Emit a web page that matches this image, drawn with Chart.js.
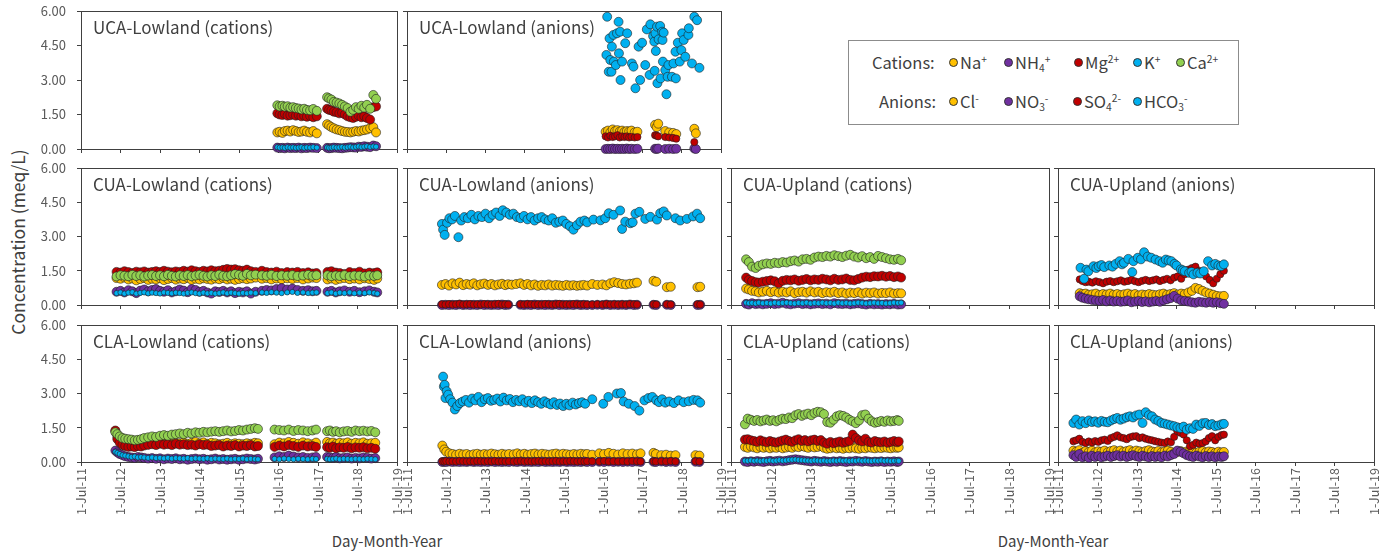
<!DOCTYPE html>
<html><head><meta charset="utf-8">
<script src="https://cdn.jsdelivr.net/npm/chart.js@4.4.1/dist/chart.umd.min.js"></script>
<style>
html,body{margin:0;padding:0;background:#fff;}
body{width:1379px;height:552px;overflow:hidden;position:relative;font-family:'Noto Sans CJK JP','Noto Sans',sans-serif;color:#404040;}
canvas{position:absolute;}
.pt{position:absolute;font-size:17px;line-height:20px;white-space:nowrap;color:#404040;}
.lg{position:absolute;font-size:16.5px;line-height:20px;white-space:nowrap;color:#404040;}
.lg sup{font-size:0.62em;vertical-align:0.55em;line-height:0;}
.lg sub{font-size:0.62em;vertical-align:-0.3em;line-height:0;}
.dot{position:absolute;width:9px;height:9px;border-radius:50%;border:0.8px solid #333;box-sizing:border-box;}
.ax{position:absolute;font-size:15px;line-height:20px;white-space:nowrap;color:#404040;}
</style></head><body>
<div id="legendBox" style="position:absolute;left:848px;top:40px;width:391px;height:85px;border:1px solid #8c8c8c;box-sizing:border-box;"></div>
<div class="ax" style="left:18px;top:242px;font-size:17.5px;transform:translate(-50%,-50%) rotate(-90deg);">Concentration (meq/L)</div>
<div class="ax" style="left:387px;top:541px;transform:translate(-50%,-50%);">Day-Month-Year</div>
<div class="ax" style="left:1053px;top:541px;transform:translate(-50%,-50%);">Day-Month-Year</div>
<script>
// ---------- tick values / labels ----------
const xTickVals = [2011.5,2012.5,2013.5,2014.5,2015.5,2016.5,2017.5,2018.5,2019.5];
const xTickLabels = ['1-Jul-11','1-Jul-12','1-Jul-13','1-Jul-14','1-Jul-15','1-Jul-16','1-Jul-17','1-Jul-18','1-Jul-19'];
const yTickVals = [0,1.5,3,4.5,6];
const yTickLabels = ['0.00','1.50','3.00','4.50','6.00'];

// ---------- UCA-Lowland cations ----------
const ucaLowCatDates = [2016.47,2016.53,2016.60,2016.66,2016.73,2016.80,2016.87,2016.94,2017.01,2017.08,2017.15,2017.22,2017.30,2017.38,2017.47,2017.73,2017.78,2017.84,2017.90,2017.97,2018.04,2018.11,2018.18,2018.25,2018.32,2018.39,2018.46,2018.53,2018.60,2018.67,2018.74,2018.82,2018.90,2018.97];
const ucaLowNa = [0.72,0.75,0.70,0.78,0.80,0.76,0.82,0.78,0.74,0.76,0.80,0.75,0.72,0.78,0.68,1.08,1.02,0.95,0.90,0.85,0.82,0.78,0.75,0.74,0.72,0.75,0.78,0.76,0.80,0.82,0.85,0.90,0.95,0.72];
const ucaLowNH4 = [0.06,0.04,0.05,0.03,0.06,0.04,0.05,0.04,0.06,0.03,0.05,0.04,0.06,0.05,0.04,0.05,0.03,0.04,0.06,0.05,0.04,0.03,0.05,0.06,0.08,0.07,0.06,0.10,0.09,0.12,0.10,0.08,0.15,0.12];
const ucaLowMg = [1.55,1.50,1.48,1.52,1.45,1.47,1.50,1.45,1.48,1.42,1.45,1.40,1.44,1.38,1.42,1.75,1.70,1.68,1.62,1.60,1.55,1.58,1.50,1.42,1.38,1.35,1.40,1.45,1.38,1.42,1.35,1.28,1.82,1.85];
const ucaLowK = [0.08,0.06,0.07,0.05,0.08,0.06,0.07,0.05,0.06,0.08,0.05,0.07,0.06,0.08,0.06,0.07,0.05,0.06,0.08,0.06,0.07,0.09,0.06,0.08,0.10,0.07,0.09,0.11,0.08,0.10,0.12,0.09,0.11,0.10];
const ucaLowCa = [1.90,1.85,1.88,1.84,1.86,1.80,1.82,1.78,1.76,1.72,1.75,1.70,1.68,1.74,1.66,2.25,2.20,2.15,2.05,2.02,1.98,1.92,1.85,1.78,1.62,1.70,1.82,1.75,1.88,1.80,1.92,1.75,2.35,2.18];

// ---------- UCA-Lowland anions ----------
const ucaLowAniDates = [2016.56,2016.62,2016.68,2016.74,2016.80,2016.86,2016.92,2016.98,2017.04,2017.10,2017.16,2017.22,2017.30,2017.37,2017.82,2017.86,2017.90,2018.08,2018.18,2018.28,2018.36,2018.82,2018.86];
const ucaLowCl = [0.75,0.80,0.72,0.85,0.78,0.82,0.76,0.80,0.74,0.78,0.76,0.80,0.72,0.75,1.05,0.95,1.10,0.78,0.72,0.70,0.65,0.88,0.68];
const ucaLowNO3 = [0.00,0.01,0.00,0.02,0.00,0.01,0.00,0.01,0.00,0.02,0.00,0.01,0.00,0.01,0.01,0.00,0.02,0.00,0.01,0.00,0.01,0.02,0.00];
const ucaLowSO4 = [0.55,0.50,0.58,0.52,0.55,0.60,0.50,0.55,0.52,0.55,0.50,0.53,0.50,0.52,0.60,0.58,0.55,0.52,0.50,0.48,0.45,0.30,null];
const ucaLowHco3Dates = [2016.58,2016.60,2016.64,2016.66,2016.68,2016.71,2016.72,2016.76,2016.77,2016.82,2016.85,2016.89,2016.90,2016.93,2016.94,2016.98,2017.06,2017.11,2017.23,2017.27,2017.32,2017.40,2017.44,2017.49,2017.57,2017.61,2017.68,2017.70,2017.77,2017.80,2017.81,2017.83,2017.84,2017.87,2017.88,2017.91,2017.95,2017.96,2018.00,2018.01,2018.02,2018.04,2018.08,2018.11,2018.14,2018.16,2018.25,2018.29,2018.34,2018.35,2018.40,2018.45,2018.49,2018.51,2018.55,2018.59,2018.67,2018.68,2018.76,2018.82,2018.89,2018.95];
const ucaLowHco3 = [4.09,5.75,3.36,4.81,3.87,3.36,4.45,4.96,3.80,3.65,5.03,5.53,4.16,5.10,3.00,3.80,4.60,5.03,3.72,3.58,2.64,4.45,3.00,4.62,3.65,5.20,3.22,5.42,4.91,4.67,3.40,5.03,4.26,5.32,2.86,4.77,5.35,3.07,5.10,4.74,3.80,5.06,3.43,2.38,3.14,3.65,3.14,3.72,4.23,3.07,4.62,3.80,4.30,5.03,4.74,4.01,4.96,5.25,3.72,5.75,5.60,3.53];

// ---------- CUA-Lowland cations ----------
const cuaLowCatDates = [2012.40,2012.50,2012.60,2012.70,2012.80,2012.90,2013.00,2013.10,2013.20,2013.30,2013.40,2013.50,2013.60,2013.70,2013.80,2013.90,2014.00,2014.10,2014.20,2014.30,2014.40,2014.50,2014.60,2014.70,2014.80,2014.90,2015.00,2015.10,2015.20,2015.30,2015.40,2015.50,2015.60,2015.70,2015.80,2015.92,2016.08,2016.20,2016.32,2016.45,2016.58,2016.72,2016.85,2016.98,2017.12,2017.25,2017.36,2017.46,2017.74,2017.84,2017.95,2018.05,2018.17,2018.30,2018.42,2018.55,2018.68,2018.80,2018.92,2019.00];
const cuaLowNa = [1.18,1.15,1.20,1.12,1.16,1.08,1.14,1.18,1.10,1.15,1.12,1.17,1.09,1.14,1.18,1.11,1.16,1.13,1.19,1.10,1.15,1.12,1.17,1.14,1.11,1.16,1.13,1.18,1.12,1.15,1.10,1.14,1.17,1.13,1.16,1.20,1.15,1.18,1.12,1.16,1.13,1.17,1.14,1.18,1.12,1.16,1.20,1.18,1.12,1.16,1.10,1.15,1.18,1.13,1.16,1.12,1.17,1.14,1.10,1.16];
const cuaLowNH4 = [0.58,0.62,0.55,0.65,0.60,0.52,0.63,0.68,0.60,0.66,0.70,0.62,0.58,0.65,0.55,0.60,0.68,0.63,0.56,0.70,0.66,0.58,0.62,0.55,0.50,0.60,0.57,0.62,0.55,0.60,0.52,0.58,0.55,0.60,0.50,0.58,0.62,0.66,0.64,0.70,0.74,0.68,0.72,0.66,0.62,0.65,0.60,0.62,0.58,0.62,0.55,0.60,0.64,0.58,0.62,0.56,0.60,0.64,0.58,0.55];
const cuaLowMg = [1.45,1.42,1.48,1.44,1.40,1.46,1.43,1.47,1.42,1.45,1.48,1.44,1.50,1.46,1.43,1.47,1.45,1.50,1.46,1.52,1.48,1.45,1.50,1.47,1.52,1.48,1.50,1.54,1.58,1.55,1.57,1.52,1.50,1.55,1.48,1.45,1.50,1.44,1.42,1.46,1.40,1.44,1.42,1.45,1.40,1.43,1.38,1.40,1.45,1.48,1.42,1.40,1.36,1.44,1.40,1.46,1.38,1.42,1.40,1.43];
const cuaLowK = [0.52,0.55,0.50,0.54,0.56,0.50,0.53,0.55,0.51,0.54,0.52,0.50,0.55,0.53,0.51,0.54,0.52,0.50,0.53,0.55,0.52,0.50,0.54,0.51,0.53,0.50,0.52,0.55,0.51,0.54,0.52,0.50,0.53,0.51,0.54,0.52,0.55,0.53,0.56,0.54,0.52,0.55,0.57,0.53,0.55,0.52,0.54,0.55,0.52,0.55,0.50,0.54,0.52,0.55,0.51,0.54,0.52,0.55,0.53,0.50];
const cuaLowCa = [1.25,1.30,1.28,1.26,1.32,1.27,1.30,1.25,1.29,1.31,1.27,1.30,1.26,1.32,1.28,1.25,1.30,1.27,1.31,1.26,1.29,1.32,1.28,1.25,1.30,1.27,1.33,1.28,1.26,1.30,1.35,1.32,1.28,1.36,1.30,1.33,1.30,1.28,1.32,1.27,1.30,1.28,1.31,1.27,1.29,1.32,1.28,1.30,1.30,1.26,1.29,1.27,1.31,1.26,1.29,1.28,1.25,1.29,1.27,1.30];

// ---------- CUA-Lowland anions ----------
const cuaLowAniDates = [2012.39,2012.48,2012.57,2012.66,2012.75,2012.84,2012.93,2013.02,2013.11,2013.20,2013.29,2013.38,2013.47,2013.56,2013.65,2013.74,2013.83,2013.92,2014.00,2014.08,2014.17,2014.28,2014.39,2014.48,2014.57,2014.66,2014.75,2014.84,2014.93,2015.02,2015.11,2015.20,2015.29,2015.38,2015.47,2015.56,2015.65,2015.74,2015.83,2015.92,2016.00,2016.09,2016.22,2016.35,2016.48,2016.58,2016.68,2016.78,2016.88,2016.98,2017.08,2017.18,2017.28,2017.36,2017.78,2017.85,2018.12,2018.22,2018.90,2018.97];
const cuaLowCl = [0.88,0.92,0.85,0.95,0.90,0.98,0.87,0.92,0.89,0.95,0.86,0.91,0.94,0.88,0.92,0.86,0.90,0.93,0.87,0.91,0.89,0.92,0.95,0.88,0.92,0.86,0.90,0.84,0.88,0.86,0.90,0.85,0.88,0.86,0.84,0.88,0.85,0.87,0.84,0.86,0.88,0.85,0.92,0.88,0.90,0.86,0.95,1.00,0.96,0.92,0.90,0.93,0.95,0.98,1.06,1.02,0.78,0.80,0.78,0.80];
const cuaLowNO3 = [0.00,0.01,0.00,0.01,0.00,0.02,0.00,0.01,0.00,0.01,0.00,0.02,0.00,0.01,0.00,0.01,0.00,0.02,0.00,0.01,null,null,0.01,0.00,0.01,0.00,0.02,0.00,0.01,0.00,0.01,0.00,0.02,0.00,0.01,0.00,0.01,0.00,0.02,0.00,0.01,0.00,0.00,0.01,0.00,0.02,0.00,0.01,0.00,0.01,0.00,0.02,0.00,0.01,0.01,0.00,0.01,0.00,0.00,0.01];
const cuaLowSO4 = [0.03,0.02,0.04,0.02,0.03,0.05,0.02,0.03,0.04,0.02,0.03,0.02,0.04,0.03,0.02,0.03,0.05,0.02,0.03,0.02,null,null,0.03,0.02,0.04,0.03,0.02,0.03,0.02,0.04,0.03,0.02,0.03,0.05,0.02,0.03,0.02,0.04,0.03,0.02,0.03,0.02,0.02,0.03,0.02,0.04,0.02,0.03,0.02,0.03,0.02,0.04,0.03,0.02,0.03,0.02,0.03,0.02,0.03,0.02];
const cuaLowHco3Dates = [2012.39,2012.42,2012.46,2012.52,2012.58,2012.65,2012.72,2012.81,2012.88,2012.96,2013.05,2013.14,2013.23,2013.32,2013.41,2013.50,2013.59,2013.68,2013.77,2013.86,2013.94,2014.03,2014.12,2014.21,2014.30,2014.39,2014.48,2014.57,2014.66,2014.75,2014.84,2014.93,2015.02,2015.11,2015.20,2015.29,2015.38,2015.47,2015.56,2015.65,2015.74,2015.83,2015.92,2016.02,2016.09,2016.25,2016.43,2016.55,2016.64,2016.76,2016.93,2016.98,2017.06,2017.19,2017.25,2017.32,2017.42,2017.57,2017.70,2017.87,2017.95,2018.04,2018.12,2018.34,2018.46,2018.63,2018.79,2018.89,2018.97];
const cuaLowHco3 = [3.55,3.30,3.07,3.60,3.80,3.75,3.90,2.97,3.70,3.85,3.80,3.95,3.75,3.90,3.85,4.00,3.80,3.95,4.05,3.90,4.15,4.05,3.95,4.00,3.85,3.80,3.90,3.75,3.85,3.70,3.80,3.85,3.75,3.70,3.80,3.60,3.65,3.70,3.55,3.45,3.30,3.50,3.65,3.70,3.62,3.74,3.71,3.80,4.02,3.95,4.14,3.33,3.65,3.58,3.62,4.00,4.08,3.77,3.86,3.74,4.02,4.10,3.92,3.80,3.70,3.77,3.88,4.00,3.80];

// ---------- CUA-Upland cations ----------
const cuaUpCatDates = [2011.88,2011.95,2012.03,2012.12,2012.20,2012.30,2012.40,2012.50,2012.60,2012.70,2012.80,2012.90,2013.00,2013.10,2013.20,2013.30,2013.40,2013.50,2013.60,2013.70,2013.80,2013.90,2014.00,2014.10,2014.20,2014.30,2014.40,2014.50,2014.60,2014.70,2014.80,2014.90,2015.00,2015.10,2015.20,2015.30,2015.40,2015.50,2015.60,2015.70,2015.78];
const cuaUpNa = [0.72,0.68,0.62,0.60,0.55,0.58,0.62,0.56,0.60,0.54,0.58,0.55,0.60,0.52,0.56,0.58,0.54,0.60,0.55,0.58,0.52,0.56,0.54,0.58,0.52,0.55,0.50,0.54,0.52,0.56,0.50,0.54,0.52,0.55,0.50,0.53,0.52,0.55,0.50,0.52,0.51];
const cuaUpNH4 = [0.05,0.02,0.08,0.04,0.06,0.03,0.05,0.08,0.04,0.06,0.10,0.05,0.03,0.06,0.08,0.04,0.06,0.03,0.05,0.07,0.04,0.06,0.03,0.08,0.05,0.04,0.06,0.03,0.05,0.07,0.04,0.02,0.05,0.03,0.04,0.02,0.04,0.03,0.05,0.02,0.03];
const cuaUpMg = [1.20,1.10,1.05,1.00,0.98,1.02,1.05,1.08,1.04,0.95,1.06,1.10,1.08,1.12,1.06,1.10,1.14,1.08,1.12,1.10,1.15,1.12,1.08,1.15,1.10,1.12,1.16,1.10,1.08,1.14,1.20,1.24,1.22,1.26,1.25,1.28,1.24,1.27,1.22,1.25,1.20];
const cuaUpK = [0.10,0.08,0.09,0.07,0.10,0.08,0.09,0.07,0.10,0.08,0.09,0.10,0.08,0.07,0.09,0.08,0.10,0.07,0.09,0.08,0.10,0.08,0.09,0.07,0.10,0.08,0.09,0.07,0.08,0.10,0.09,0.07,0.08,0.10,0.08,0.09,0.07,0.08,0.10,0.09,0.10];
const cuaUpCa = [2.00,1.88,1.68,1.62,1.72,1.78,1.82,1.80,1.85,1.83,1.88,1.86,1.92,1.95,1.90,2.00,2.02,1.98,2.08,2.12,2.10,2.15,2.12,2.18,2.14,2.10,2.16,2.20,2.12,2.08,2.14,2.05,2.10,2.02,2.15,2.10,2.05,2.00,1.98,2.02,1.96];

// ---------- CUA-Upland anions ----------
const cuaUpAniDates = [2012.05,2012.12,2012.20,2012.28,2012.37,2012.46,2012.55,2012.64,2012.73,2012.82,2012.91,2013.00,2013.09,2013.18,2013.27,2013.36,2013.45,2013.54,2013.63,2013.72,2013.81,2013.90,2013.99,2014.08,2014.17,2014.26,2014.35,2014.44,2014.53,2014.62,2014.71,2014.80,2014.89,2014.98,2015.07,2015.16,2015.25,2015.34,2015.43,2015.52,2015.61,2015.70];
const cuaUpCl = [0.52,0.48,0.50,0.45,0.47,0.50,0.44,0.48,0.46,0.50,0.45,0.48,0.44,0.47,0.50,0.45,0.48,0.42,0.46,0.44,0.48,0.45,0.43,0.47,0.50,0.45,0.48,0.52,0.46,0.50,0.48,0.55,0.62,0.75,0.70,0.62,0.55,0.50,0.45,0.40,0.38,0.40];
const cuaUpNO3 = [0.38,0.32,0.28,0.25,0.22,0.20,0.18,0.22,0.16,0.20,0.15,0.18,0.14,0.16,0.20,0.12,0.15,0.18,0.13,0.16,0.12,0.15,0.18,0.14,0.20,0.25,0.30,0.40,0.28,0.20,0.18,0.15,0.12,0.10,0.14,0.12,0.10,0.13,0.10,0.12,0.08,0.05];
const cuaUpSO4 = [1.12,1.05,1.00,1.02,0.98,1.04,1.00,0.95,1.02,1.05,1.00,1.04,1.08,1.02,1.05,1.10,1.04,1.00,1.06,1.10,1.05,1.08,1.12,1.05,1.10,1.15,1.08,1.20,1.25,1.15,1.35,1.55,1.62,1.68,1.50,1.40,1.25,1.10,0.95,1.15,1.35,1.50];
const cuaUpHco3Dates = [2012.07,2012.16,2012.22,2012.27,2012.40,2012.47,2012.53,2012.60,2012.67,2012.80,2012.88,2012.96,2013.06,2013.12,2013.17,2013.28,2013.38,2013.41,2013.52,2013.60,2013.68,2013.77,2013.86,2013.97,2014.07,2014.15,2014.23,2014.30,2014.37,2014.45,2014.50,2014.61,2014.66,2014.71,2014.82,2014.88,2014.93,2015.03,2015.10,2015.19,2015.30,2015.40,2015.48,2015.56,2015.63,2015.70];
const cuaUpHco3 = [1.63,1.15,1.55,1.48,1.70,1.62,1.70,1.75,1.66,1.73,1.68,1.80,1.92,1.78,1.85,2.02,1.44,1.92,2.07,2.00,2.31,2.12,2.07,1.99,1.92,1.85,1.99,1.95,1.92,1.80,1.73,1.56,1.52,1.48,1.41,1.45,1.34,1.41,1.38,1.48,1.92,1.73,1.80,1.73,1.70,1.78];

// ---------- CLA-Lowland cations ----------
const claLowCatDates = [2012.37,2012.42,2012.48,2012.55,2012.62,2012.70,2012.78,2012.86,2012.94,2013.02,2013.10,2013.20,2013.30,2013.40,2013.50,2013.60,2013.70,2013.80,2013.90,2014.00,2014.10,2014.20,2014.30,2014.40,2014.50,2014.60,2014.70,2014.80,2014.90,2015.00,2015.10,2015.20,2015.30,2015.40,2015.50,2015.60,2015.70,2015.80,2015.90,2015.98,2016.40,2016.52,2016.64,2016.76,2016.88,2017.00,2017.12,2017.24,2017.36,2017.45,2017.73,2017.80,2017.88,2017.96,2018.05,2018.15,2018.25,2018.35,2018.45,2018.55,2018.65,2018.75,2018.85,2018.95];
const claLowNa = [1.35,1.10,0.95,0.85,0.80,0.78,0.75,0.80,0.76,0.82,0.78,0.80,0.84,0.80,0.85,0.82,0.86,0.80,0.84,0.82,0.86,0.80,0.84,0.88,0.82,0.86,0.80,0.84,0.82,0.78,0.80,0.84,0.78,0.82,0.80,0.78,0.82,0.80,0.84,0.82,0.78,0.85,0.82,0.88,0.84,0.80,0.86,0.82,0.78,0.85,0.88,0.82,0.85,0.80,0.84,0.82,0.86,0.80,0.84,0.82,0.86,0.80,0.82,0.84];
const claLowNH4 = [0.50,0.42,0.35,0.30,0.25,0.22,0.20,0.18,0.22,0.20,0.18,0.15,0.17,0.14,0.16,0.12,0.15,0.13,0.16,0.12,0.14,0.10,0.13,0.15,0.12,0.14,0.10,0.12,0.15,0.11,0.13,0.10,0.12,0.14,0.10,0.12,0.15,0.13,0.11,0.14,0.20,0.25,0.22,0.28,0.24,0.20,0.22,0.18,0.20,0.22,0.22,0.20,0.18,0.22,0.16,0.18,0.20,0.15,0.18,0.16,0.20,0.18,0.15,0.17];
const claLowMg = [1.38,1.00,0.85,0.75,0.70,0.66,0.68,0.65,0.70,0.68,0.72,0.75,0.78,0.74,0.80,0.76,0.78,0.74,0.80,0.76,0.78,0.74,0.76,0.72,0.78,0.74,0.76,0.70,0.72,0.74,0.68,0.72,0.70,0.74,0.68,0.72,0.70,0.74,0.68,0.70,0.66,0.72,0.68,0.74,0.70,0.66,0.72,0.68,0.70,0.66,0.65,0.62,0.68,0.60,0.64,0.62,0.66,0.60,0.64,0.62,0.65,0.60,0.62,0.58];
const claLowK = [0.45,0.40,0.35,0.30,0.28,0.25,0.22,0.24,0.20,0.22,0.20,0.18,0.20,0.17,0.18,0.16,0.18,0.15,0.17,0.16,0.15,0.17,0.14,0.16,0.15,0.14,0.16,0.13,0.15,0.14,0.13,0.15,0.12,0.14,0.13,0.15,0.12,0.14,0.13,0.12,0.14,0.12,0.15,0.13,0.12,0.14,0.13,0.12,0.14,0.13,0.14,0.12,0.13,0.15,0.12,0.14,0.13,0.12,0.14,0.13,0.12,0.14,0.13,0.12];
const claLowCa = [1.30,1.22,1.12,1.05,1.02,1.00,0.98,0.95,0.97,1.00,1.05,1.08,1.12,1.10,1.15,1.18,1.15,1.20,1.22,1.25,1.22,1.28,1.25,1.30,1.28,1.32,1.30,1.33,1.35,1.32,1.35,1.38,1.34,1.36,1.40,1.38,1.42,1.45,1.48,1.45,1.42,1.40,1.38,1.42,1.36,1.40,1.38,1.35,1.38,1.42,1.35,1.38,1.32,1.35,1.30,1.34,1.36,1.32,1.38,1.35,1.37,1.34,1.36,1.30];

// ---------- CLA-Lowland anions ----------
const claLowAniDates = [2012.40,2012.45,2012.50,2012.58,2012.66,2012.75,2012.84,2012.93,2013.02,2013.11,2013.20,2013.29,2013.38,2013.47,2013.56,2013.65,2013.74,2013.83,2013.92,2014.01,2014.10,2014.22,2014.31,2014.40,2014.49,2014.58,2014.67,2014.76,2014.85,2014.94,2015.03,2015.12,2015.21,2015.30,2015.39,2015.48,2015.57,2015.66,2015.75,2015.84,2015.93,2016.02,2016.09,2016.22,2016.40,2016.52,2016.64,2016.76,2016.88,2017.00,2017.12,2017.24,2017.36,2017.45,2017.78,2017.84,2017.98,2018.10,2018.22,2018.34,2018.85,2018.95];
const claLowCl = [0.72,0.55,0.45,0.38,0.35,0.32,0.36,0.33,0.35,0.30,0.34,0.36,0.32,0.35,0.33,0.37,0.34,0.32,0.36,0.33,0.35,0.34,0.38,0.33,0.36,0.32,0.35,0.37,0.33,0.36,0.34,0.32,0.35,0.37,0.33,0.36,0.34,0.32,0.35,0.33,0.36,0.34,0.35,0.32,0.38,0.35,0.40,0.36,0.33,0.38,0.35,0.37,0.34,0.38,0.40,0.35,0.30,0.32,0.28,0.30,0.30,0.28];
const claLowNO3 = [0.00,0.01,0.00,0.02,0.00,0.01,0.00,0.01,0.00,0.02,0.00,0.01,0.00,0.01,0.00,0.02,0.00,0.01,0.00,0.01,0.00,0.01,0.00,0.02,0.00,0.01,0.00,0.01,0.00,0.02,0.00,0.01,0.00,0.01,0.00,0.02,0.00,0.01,0.00,0.01,0.00,0.02,0.00,0.00,0.01,0.00,0.02,0.00,0.01,0.00,0.01,0.00,0.02,0.00,0.01,0.00,0.02,0.00,0.01,0.00,0.01,0.00];
const claLowSO4 = [0.03,0.02,0.04,0.02,0.03,0.02,0.04,0.03,0.02,0.03,0.02,0.04,0.03,0.02,0.03,0.02,0.04,0.02,0.03,0.02,0.03,0.02,0.03,0.04,0.02,0.03,0.02,0.03,0.04,0.02,0.03,0.02,0.03,0.04,0.02,0.03,0.02,0.04,0.03,0.02,0.03,0.02,0.03,0.03,0.02,0.04,0.02,0.03,0.02,0.03,0.02,0.04,0.03,0.02,0.03,0.02,0.03,0.02,0.04,0.02,0.03,0.02];
const claLowHco3Dates = [2012.42,2012.44,2012.46,2012.48,2012.51,2012.55,2012.60,2012.66,2012.72,2012.78,2012.85,2012.92,2013.00,2013.08,2013.16,2013.24,2013.32,2013.40,2013.48,2013.56,2013.64,2013.72,2013.80,2013.88,2013.96,2014.04,2014.12,2014.20,2014.28,2014.36,2014.44,2014.52,2014.60,2014.68,2014.76,2014.84,2014.92,2015.00,2015.08,2015.16,2015.24,2015.32,2015.40,2015.48,2015.56,2015.64,2015.72,2015.80,2015.88,2015.96,2016.04,2016.22,2016.50,2016.63,2016.85,2016.95,2017.02,2017.15,2017.30,2017.42,2017.55,2017.65,2017.75,2017.85,2017.92,2018.00,2018.08,2018.18,2018.30,2018.42,2018.55,2018.68,2018.80,2018.90,2018.97];
const claLowHco3 = [3.74,3.30,3.38,2.80,3.10,2.95,2.75,2.60,2.30,2.45,2.58,2.65,2.72,2.60,2.78,2.70,2.85,2.62,2.75,2.80,2.68,2.72,2.78,2.65,2.82,2.70,2.76,2.62,2.72,2.66,2.75,2.60,2.68,2.58,2.70,2.62,2.55,2.66,2.58,2.52,2.62,2.50,2.56,2.45,2.55,2.48,2.60,2.52,2.58,2.62,2.55,2.75,2.55,2.85,3.00,3.02,2.65,2.55,2.45,2.25,2.70,2.80,2.85,2.70,2.62,2.75,2.60,2.65,2.58,2.70,2.62,2.66,2.72,2.70,2.60];

// ---------- CLA-Upland cations ----------
const claUpCatDates = [2011.85,2011.92,2012.00,2012.08,2012.16,2012.24,2012.32,2012.40,2012.48,2012.56,2012.64,2012.72,2012.80,2012.88,2012.96,2013.04,2013.12,2013.20,2013.28,2013.36,2013.44,2013.52,2013.60,2013.68,2013.76,2013.84,2013.92,2014.00,2014.08,2014.16,2014.24,2014.32,2014.40,2014.48,2014.56,2014.64,2014.72,2014.80,2014.88,2014.96,2015.04,2015.12,2015.20,2015.28,2015.36,2015.44,2015.52,2015.60,2015.68,2015.72];
const claUpNa = [0.66,0.62,0.68,0.64,0.60,0.66,0.62,0.65,0.60,0.64,0.62,0.66,0.60,0.63,0.66,0.62,0.68,0.65,0.70,0.66,0.62,0.68,0.64,0.66,0.70,0.62,0.58,0.60,0.64,0.60,0.62,0.58,0.62,0.60,0.64,0.60,0.58,0.62,0.60,0.64,0.62,0.60,0.63,0.61,0.64,0.62,0.60,0.63,0.62,0.64];
const claUpNH4 = [0.02,0.00,0.03,0.01,0.04,0.02,0.00,0.03,0.05,0.02,0.04,0.06,0.03,0.05,0.08,0.10,0.12,0.10,0.08,0.06,0.04,0.02,0.05,0.03,0.01,0.04,0.02,0.00,0.03,0.01,0.04,0.02,0.00,0.03,0.02,0.05,0.03,0.01,0.04,0.02,0.00,0.02,0.01,0.03,0.00,0.02,0.01,0.03,0.00,0.02];
const claUpMg = [0.98,1.00,0.95,0.92,0.88,0.95,0.90,0.86,0.92,0.88,0.85,0.90,0.94,0.98,0.92,0.88,0.95,1.00,0.92,0.96,0.90,0.95,0.98,0.92,0.96,0.85,0.80,0.88,0.82,0.86,0.90,0.84,0.88,0.92,1.20,1.05,0.95,0.90,1.02,0.88,0.85,0.92,0.88,0.86,0.90,0.84,0.88,0.92,0.86,0.90];
const claUpK = [0.06,0.05,0.07,0.05,0.06,0.04,0.06,0.05,0.07,0.05,0.06,0.08,0.06,0.07,0.09,0.10,0.11,0.09,0.08,0.07,0.06,0.05,0.07,0.06,0.05,0.06,0.04,0.05,0.06,0.05,0.07,0.05,0.06,0.04,0.06,0.05,0.07,0.05,0.06,0.05,0.04,0.06,0.05,0.07,0.05,0.06,0.04,0.05,0.06,0.05];
const claUpCa = [1.65,1.90,1.85,1.80,1.84,1.78,1.82,1.86,1.80,1.83,1.78,1.85,1.90,1.88,1.95,1.92,2.05,2.10,2.02,2.08,2.12,2.05,2.15,2.20,2.18,2.10,1.75,1.72,1.85,2.00,2.05,2.02,1.95,1.85,1.78,1.70,1.82,2.05,2.08,1.90,1.78,1.72,1.75,1.80,1.76,1.82,1.78,1.80,1.84,1.80];

// ---------- CLA-Upland anions ----------
const claUpAniDates = [2011.89,2011.96,2012.04,2012.12,2012.20,2012.28,2012.36,2012.44,2012.52,2012.60,2012.68,2012.76,2012.84,2012.92,2013.00,2013.08,2013.16,2013.24,2013.32,2013.40,2013.48,2013.56,2013.64,2013.72,2013.80,2013.88,2013.96,2014.04,2014.12,2014.20,2014.28,2014.36,2014.44,2014.52,2014.60,2014.68,2014.76,2014.84,2014.92,2015.00,2015.08,2015.16,2015.24,2015.32,2015.40,2015.48,2015.56,2015.64,2015.70];
const claUpCl = [0.50,0.45,0.52,0.40,0.48,0.44,0.50,0.42,0.47,0.45,0.50,0.43,0.48,0.52,0.46,0.50,0.44,0.48,0.52,0.45,0.50,0.47,0.43,0.48,0.52,0.46,0.44,0.48,0.42,0.46,0.50,0.45,0.40,0.44,0.48,0.42,0.46,0.50,0.44,0.40,0.45,0.48,0.42,0.46,0.44,0.40,0.45,0.42,0.44];
const claUpNO3 = [0.30,0.22,0.35,0.20,0.25,0.18,0.28,0.22,0.26,0.20,0.24,0.28,0.22,0.26,0.30,0.24,0.28,0.22,0.26,0.30,0.25,0.22,0.28,0.24,0.20,0.26,0.22,0.25,0.20,0.28,0.24,0.30,0.35,0.50,0.45,0.38,0.30,0.25,0.22,0.28,0.24,0.20,0.26,0.22,0.25,0.20,0.24,0.22,0.25];
const claUpSO4 = [0.91,0.95,1.02,0.88,0.83,0.90,0.85,0.92,0.88,0.95,0.98,0.92,1.05,1.10,1.17,1.08,1.05,1.00,1.08,1.12,1.13,1.05,1.08,1.02,0.98,0.95,0.91,0.88,0.85,0.83,0.90,0.86,1.10,1.35,1.28,1.20,0.95,0.69,0.75,0.85,0.80,0.83,0.90,1.05,1.13,0.95,1.10,1.18,1.20];
const claUpHco3 = [1.71,1.86,1.64,1.79,1.70,1.82,1.75,1.78,1.72,1.80,1.76,1.74,1.82,1.88,1.93,1.85,1.90,1.96,2.00,1.95,2.04,2.08,1.71,2.18,2.05,2.00,1.86,1.80,1.71,1.68,1.64,1.60,1.57,1.52,1.49,1.55,1.42,1.48,1.45,1.64,1.58,1.70,1.71,1.62,1.66,1.57,1.60,1.65,1.67];

// ---------- styling ----------
const C_NA = '#FFC000', C_NH4 = '#7030A0', C_MG = '#C00000', C_K = '#00B0F0', C_CA = '#92D050';
const FONT = "'Noto Sans CJK JP','Noto Sans',sans-serif";
const COLX = [81, 407, 731, 1058], COLW = [316, 314, 318, 316];
const ROWY = [11, 168, 325], ROWH = [138, 137, 137];

function S(name, color, dates, vals, r){ return {name, color, dates, vals, r}; }
const cations = (d, na, nh4, mg, k, ca) => [S('Na+',C_NA,d,na,4.5), S('NH4+',C_NH4,d,nh4,4.5), S('Mg2+',C_MG,d,mg,4.5), S('K+',C_K,d,k,2.6), S('Ca2+',C_CA,d,ca,4.5)];
const anions = (d, cl, no3, so4, hd, hco3) => [S('Cl-',C_NA,d,cl,4.5), S('NO3-',C_NH4,d,no3,4.5), S('SO42-',C_MG,d,so4,3.6), S('HCO3-',C_K,hd,hco3,4.5)];

const PANELS = [
  {title:'UCA-Lowland (cations)', row:0, col:0, series:cations(ucaLowCatDates, ucaLowNa, ucaLowNH4, ucaLowMg, ucaLowK, ucaLowCa)},
  {title:'UCA-Lowland (anions)', row:0, col:1, series:anions(ucaLowAniDates, ucaLowCl, ucaLowNO3, ucaLowSO4, ucaLowHco3Dates, ucaLowHco3)},
  {title:'CUA-Lowland (cations)', row:1, col:0, series:cations(cuaLowCatDates, cuaLowNa, cuaLowNH4, cuaLowMg, cuaLowK, cuaLowCa)},
  {title:'CUA-Lowland (anions)', row:1, col:1, series:anions(cuaLowAniDates, cuaLowCl, cuaLowNO3, cuaLowSO4, cuaLowHco3Dates, cuaLowHco3)},
  {title:'CUA-Upland (cations)', row:1, col:2, series:cations(cuaUpCatDates, cuaUpNa, cuaUpNH4, cuaUpMg, cuaUpK, cuaUpCa)},
  {title:'CUA-Upland (anions)', row:1, col:3, series:anions(cuaUpAniDates, cuaUpCl, cuaUpNO3, cuaUpSO4, cuaUpHco3Dates, cuaUpHco3)},
  {title:'CLA-Lowland (cations)', row:2, col:0, series:cations(claLowCatDates, claLowNa, claLowNH4, claLowMg, claLowK, claLowCa)},
  {title:'CLA-Lowland (anions)', row:2, col:1, series:anions(claLowAniDates, claLowCl, claLowNO3, claLowSO4, claLowHco3Dates, claLowHco3)},
  {title:'CLA-Upland (cations)', row:2, col:2, series:cations(claUpCatDates, claUpNa, claUpNH4, claUpMg, claUpK, claUpCa)},
  {title:'CLA-Upland (anions)', row:2, col:3, series:anions(claUpAniDates, claUpCl, claUpNO3, claUpSO4, claUpAniDates, claUpHco3)}
];

const framePlugin = {
  id:'frame',
  beforeDatasetsDraw(chart){
    const a = chart.chartArea, ctx = chart.ctx;
    const al = v => Math.round(v - 0.5) + 0.5;
    ctx.save();
    ctx.strokeStyle = '#404040'; ctx.lineWidth = 1;
    ctx.strokeRect(al(a.left), al(a.top), al(a.right) - al(a.left), al(a.bottom) - al(a.top));
    ctx.restore();
  }
};

function makePanel(p){
  const padL = 70, padR = 18, padT = 28, padB = 62;
  const pw = COLW[p.col], ph = ROWH[p.row];
  const W = padL + pw + padR, H = padT + ph + padB;
  const cv = document.createElement('canvas');
  cv.width = W; cv.height = H;
  cv.style.width = W + 'px'; cv.style.height = H + 'px';
  cv.style.left = (COLX[p.col] - padL) + 'px'; cv.style.top = (ROWY[p.row] - padT) + 'px';
  document.body.appendChild(cv);
  const t = document.createElement('div');
  t.className = 'pt'; t.textContent = p.title;
  t.style.left = (COLX[p.col] + 12) + 'px'; t.style.top = (ROWY[p.row] + 6) + 'px';
  document.body.appendChild(t);
  const showX = p.row === 2, showY = p.col === 0;
  new Chart(cv, {
    type:'scatter',
    data:{datasets:p.series.map((s, i) => ({
      label:s.name,
      data:s.dates.map((d, j) => ({x:d, y:s.vals[j]})).filter(pt => pt.y !== null && pt.y !== undefined),
      backgroundColor:s.color, borderColor:'rgba(30,30,30,0.85)', borderWidth:0.7,
      pointRadius:s.r, pointHoverRadius:s.r, order:-i, clip:false
    }))},
    options:{
      responsive:false, animation:false, devicePixelRatio:1, events:[],
      layout:{padding:{left:0, right:padR, top:padT, bottom:0}},
      plugins:{legend:{display:false}, tooltip:{enabled:false}},
      scales:{
        x:{type:'linear', min:2011.5, max:2019.5,
           afterBuildTicks:sc => { sc.ticks = xTickVals.map(v => ({value:v})); },
           afterFit:sc => { sc.height = padB; },
           ticks:{display:showX, autoSkip:false, minRotation:90, maxRotation:90, padding:2, color:'#595959',
                  font:{family:FONT, size:12.5}, callback:(v, i) => xTickLabels[i]},
           grid:{drawOnChartArea:false, drawTicks:true, tickLength:4, color:'#404040', lineWidth:1},
           border:{display:false}},
        y:{type:'linear', min:0, max:6,
           afterBuildTicks:sc => { sc.ticks = yTickVals.map(v => ({value:v})); },
           afterFit:sc => { sc.width = padL; },
           ticks:{display:showY, padding:11, color:'#595959', font:{family:FONT, size:13}, callback:(v, i) => yTickLabels[i]},
           grid:{drawOnChartArea:false, drawTicks:true, tickLength:4, color:'#404040', lineWidth:1},
           border:{display:false}}
      }
    },
    plugins:[framePlugin]
  });
}
PANELS.forEach(makePanel);

// ---------- legend (HTML text) ----------
const legendRows = [
  {y:62, label:'Cations:', labelX:872, items:[[C_NA,953,'Na<sup>+</sup>'],[C_NH4,1008,'NH<sub>4</sub><sup>+</sup>'],[C_MG,1078,'Mg<sup>2+</sup>'],[C_K,1137,'K<sup>+</sup>'],[C_CA,1180,'Ca<sup>2+</sup>']]},
  {y:101, label:'Anions:', labelX:879, items:[[C_NA,953,'Cl<sup>-</sup>'],[C_NH4,1008,'NO<sub>3</sub><sup>-</sup>'],[C_MG,1077,'SO<sub>4</sub><sup>2-</sup>'],[C_K,1137,'HCO<sub>3</sub><sup>-</sup>']]}
];
legendRows.forEach(r => {
  const l = document.createElement('div'); l.className = 'lg'; l.textContent = r.label;
  l.style.left = r.labelX + 'px'; l.style.top = (r.y - 10) + 'px'; document.body.appendChild(l);
  r.items.forEach(([c, x, html]) => {
    const d = document.createElement('div'); d.className = 'dot'; d.style.background = c;
    d.style.left = (x - 4.5) + 'px'; d.style.top = (r.y - 4.5) + 'px'; document.body.appendChild(d);
    const t = document.createElement('div'); t.className = 'lg'; t.innerHTML = html;
    t.style.left = (x + 7) + 'px'; t.style.top = (r.y - 10) + 'px'; document.body.appendChild(t);
  });
});
</script>
</body></html>
